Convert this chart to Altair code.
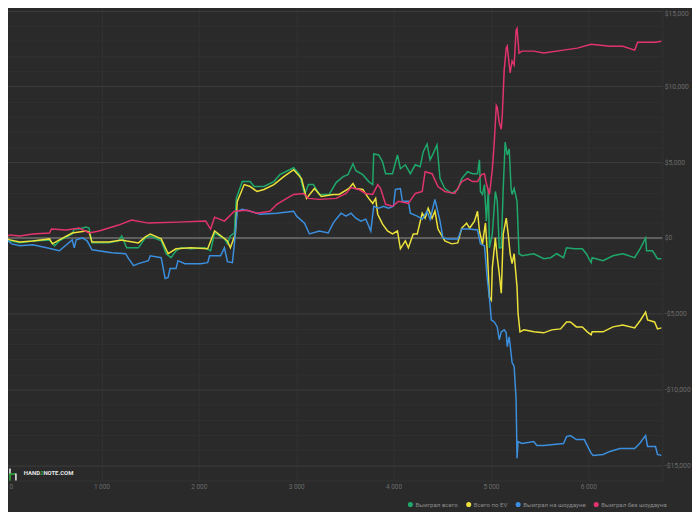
import altair as alt
import pandas as pd

series_names = ["Выиграл всего", "Всего по EV", "Выиграл на шоудауне", "Выиграл без шоудауна"]
series_colors = ["#1fa86b", "#ece23a", "#3b8fde", "#e2336d"]

green_hands = [0, 61, 162, 294, 467, 518, 568, 700, 721, 771,
               842, 873, 903, 1076, 1177, 1208, 1259, 1380, 1451, 1502,
               1614, 1665, 1715, 1766, 1817, 1918, 2060, 2121, 2162, 2263,
               2294, 2324, 2365, 2385, 2446, 2527, 2568, 2669, 2771, 2832,
               2974, 3035, 3086, 3126, 3177, 3238, 3339, 3410, 3482, 3532,
               3583, 3613, 3684, 3745, 3786, 3796, 3847, 3887, 3918, 3989,
               4040, 4070, 4121, 4172, 4223, 4273, 4304, 4344, 4375, 4405,
               4446, 4477, 4527, 4598, 4659, 4700, 4760, 4811, 4862, 4882,
               4892, 4913, 4933, 4953, 4974, 4984, 5014, 5045, 5065, 5085,
               5106, 5126, 5146, 5167, 5187, 5207, 5217, 5238, 5268, 5288,
               5319, 5440, 5542, 5613, 5674, 5745, 5776, 5857, 5938, 5979,
               6029, 6039, 6151, 6253, 6354, 6476, 6537, 6588, 6598, 6659,
               6710, 6750]
green_values = [0, -196, -326, -196, -130, -522, -196, 261, 587, 587,
                717, 652, -326, -326, -196, 130, -652, -652, 0, 130,
                -196, -1043, -1304, -848, -652, -717, -652, -848, 326, -65,
                -391, 130, 326, 2609, 3718, 3718, 3391, 3391, 3718, 4174,
                4630, 4174, 2870, 3522, 3522, 2870, 2870, 3652, 4044, 4174,
                4891, 4435, 4174, 3718, 3522, 5544, 5478, 5022, 4239, 4239,
                5478, 4565, 4826, 4239, 4826, 4696, 5674, 6196, 5152, 5544,
                6131, 3913, 3261, 2935, 3196, 3913, 4370, 4239, 4239, 5152,
                3065, 2870, 3522, 1109, 3261, -652, 261, 3065, 2413, -652,
                -652, 3261, 6326, 5478, 5870, 3261, 2870, 3261, 2413, -1043,
                -1174, -1043, -1370, -1304, -1043, -1304, -652, -717, -717, -1043,
                -1630, -1304, -1500, -1174, -1043, -1304, -652, 0, -848, -848,
                -1370, -1370]

yellow_hands = [0, 61, 162, 294, 467, 497, 568, 700, 842, 873,
                903, 1076, 1208, 1259, 1380, 1451, 1502, 1614, 1685, 1766,
                1918, 2091, 2162, 2294, 2324, 2375, 2395, 2466, 2527, 2598,
                2669, 2771, 2872, 2974, 3055, 3106, 3187, 3258, 3380, 3441,
                3542, 3583, 3613, 3684, 3745, 3786, 3816, 3837, 3887, 3938,
                3989, 4040, 4070, 4121, 4152, 4202, 4243, 4294, 4324, 4355,
                4395, 4425, 4456, 4527, 4598, 4659, 4700, 4750, 4781, 4831,
                4862, 4882, 4913, 4943, 4964, 4984, 5004, 5014, 5045, 5065,
                5085, 5106, 5126, 5157, 5177, 5197, 5217, 5238, 5268, 5278,
                5298, 5339, 5440, 5542, 5624, 5715, 5776, 5816, 5877, 5938,
                5989, 6029, 6039, 6151, 6253, 6354, 6476, 6537, 6588, 6608,
                6680, 6710, 6750]
yellow_values = [0, -130, -261, -196, -65, -391, -130, 326, 457, 391,
                 -261, -261, -130, -196, -326, 65, 261, -65, -1043, -717,
                 -652, -717, 457, -196, -652, 261, 2413, 3522, 3391, 3065,
                 3196, 3522, 4044, 4500, 3913, 2609, 3261, 2739, 2870, 2870,
                 3261, 3587, 3261, 3196, 2609, 2283, 2609, 1565, 913, 457,
                 261, 457, -717, -196, -652, 261, 261, 1630, 1304, 1957,
                 1304, 1761, 587, -196, -391, -326, 652, 978, 652, 1109,
                 1761, 457, -391, 978, -1043, -3913, -4109, -1957, 0, -1304,
                 -2348, -3652, 261, 1304, 261, -1043, -1696, -1043, -3261, -4957,
                 -6196, -6065, -6196, -6261, -6065, -6000, -5544, -5544, -5870, -5870,
                 -6196, -6392, -6196, -6196, -5870, -5739, -5935, -5413, -4891, -5413,
                 -5544, -6000, -5935]

blue_hands = [0, 81, 162, 294, 437, 568, 700, 721, 741, 802,
              853, 903, 1106, 1248, 1279, 1330, 1380, 1482, 1502, 1614,
              1654, 1685, 1705, 1766, 1786, 1857, 2020, 2091, 2111, 2223,
              2263, 2294, 2345, 2365, 2395, 2446, 2527, 2629, 2801, 2974,
              3004, 3086, 3136, 3238, 3329, 3380, 3410, 3461, 3512, 3563,
              3613, 3664, 3715, 3766, 3796, 3847, 3898, 3948, 3999, 4019,
              4070, 4091, 4152, 4172, 4243, 4294, 4344, 4375, 4425, 4446,
              4477, 4507, 4558, 4659, 4700, 4781, 4862, 4892, 4933, 4964,
              4984, 5004, 5034, 5065, 5085, 5106, 5136, 5157, 5167, 5187,
              5217, 5238, 5258, 5268, 5278, 5319, 5440, 5471, 5542, 5745,
              5776, 5816, 5877, 5958, 6029, 6050, 6151, 6222, 6324, 6476,
              6527, 6588, 6608, 6690, 6710, 6750]
blue_values = [0, -391, -522, -457, -652, -848, -130, -652, -130, 0,
               -196, -783, -978, -1043, -1370, -1826, -1696, -1500, -1174, -1304,
               -2674, -2609, -2022, -2022, -1500, -1696, -1696, -1630, -1174, -1174,
               -652, -1565, -1630, -391, 1761, 1891, 1761, 1565, 1630, 1761,
               1435, 978, 261, 457, 326, 978, 1239, 1630, 1435, 1630,
               1304, 1109, 1239, 457, 2087, 1957, 2087, 1957, 2087, 3196,
               3261, 2413, 2413, 1630, 1435, 1239, 1761, 1239, 2544, 1957,
               1109, 0, -65, -65, 587, 587, 522, -391, -522, -2805,
               -3913, -5413, -5544, -5870, -6718, -6196, -6065, -6261, -7174, -6522,
               -8218, -8479, -10631, -14544, -13435, -13566, -13435, -13696, -13696, -13566,
               -13109, -13044, -13305, -13305, -14218, -14348, -14283, -14087, -13892, -13892,
               -13566, -13044, -13761, -13761, -14283, -14348]

red_hands = [0, 61, 162, 294, 467, 487, 640, 771, 873, 974,
             1177, 1309, 1482, 1786, 2071, 2121, 2162, 2263, 2365, 2497,
             2598, 2730, 2801, 2903, 2974, 3075, 3126, 3238, 3410, 3512,
             3563, 3644, 3715, 3786, 3837, 3867, 3918, 3989, 4050, 4152,
             4223, 4294, 4324, 4395, 4456, 4527, 4629, 4700, 4760, 4811,
             4862, 4903, 4933, 4953, 4984, 5014, 5034, 5055, 5065, 5085,
             5106, 5116, 5136, 5157, 5167, 5197, 5217, 5238, 5258, 5268,
             5288, 5319, 5440, 5542, 5745, 5887, 6029, 6222, 6354, 6476,
             6506, 6690, 6750]
red_values = [0, 196, 130, 261, 326, 587, 522, 652, 326, 457,
              848, 1174, 978, 1043, 1109, 587, 1370, 1109, 1761, 1826,
              1630, 1761, 2217, 2609, 2870, 2935, 2609, 2544, 2609, 2935,
              3326, 3196, 2935, 2870, 3522, 3261, 2217, 2087, 2413, 2283,
              2935, 3065, 4370, 4239, 3391, 3065, 2935, 3718, 3913, 3718,
              3718, 4174, 4239, 3587, 2870, 4500, 6326, 8739, 8609, 7630,
              7174, 8087, 11087, 12522, 12652, 10891, 11674, 11413, 13696, 13826,
              12196, 12326, 12326, 12196, 12392, 12522, 12783, 12652, 12652, 12392,
              12913, 12913, 12978]

x_ticks = [0, 1000, 2000, 3000, 4000, 5000, 6000]
y_grid = list(range(-16000, 15001, 1000))

all_hands = [green_hands, yellow_hands, blue_hands, red_hands]
all_values = [green_values, yellow_values, blue_values, red_values]
frames = []
for i, (name, hs, vs) in enumerate(zip(series_names, all_hands, all_values)):
    n = min(len(hs), len(vs))
    frames.append(pd.DataFrame({"series": name, "hands": hs[:n], "value": vs[:n], "k": i}))
df = pd.concat(frames, ignore_index=True)

FONT = "Roboto"
LABEL = "#6a6a6a"
xs = alt.Scale(domain=[0, 6760], nice=False, zero=False)
ys = alt.Scale(domain=[-16000, 15500], nice=False, zero=False)

x_axis = alt.Axis(
    values=x_ticks, title=None, grid=True, gridColor="#333333", gridWidth=1,
    domain=False, ticks=False, labelColor=LABEL, labelFontSize=6.5, labelFont=FONT,
    labelPadding=3, labelOverlap=False, labelFlush=5, labelFlushOffset=-5,
    labelExpr="replace(format(datum.value, ','), ',', ' ')")
y_axis = alt.Axis(
    orient="right", values=y_grid, title=None, grid=True,
    gridColor={"condition": {"test": "datum.value % 5000 === 0", "value": "#3e3e3e"},
               "value": "#313131"},
    domain=False, ticks=False, labelColor=LABEL, labelFontSize=6.8, labelFont=FONT,
    labelPadding=2, labelOverlap=False, labelBound=False, labelFlush=12,
    labelExpr="datum.value % 5000 === 0 ? (datum.value < 0 ? '-$' : '$') + format(abs(datum.value), ',') : ''")

zero_rule = alt.Chart(pd.DataFrame({"value": [0]})).mark_rule(
    color="#5e5e5e", strokeWidth=2
).encode(y=alt.Y("value:Q", scale=ys, axis=y_axis))

lines = alt.Chart(df).mark_line(strokeWidth=1.5, interpolate="linear").encode(
    x=alt.X("hands:Q", scale=xs, axis=x_axis),
    y=alt.Y("value:Q", scale=ys, axis=y_axis),
    color=alt.Color("series:N", scale=alt.Scale(domain=series_names, range=series_colors),
                    legend=alt.Legend(orient="none", legendX=408, legendY=504, direction="horizontal",
                                      title=None, symbolType="circle", symbolSize=7,
                                      symbolStrokeWidth=2.5, labelFontSize=6.2, labelFont=FONT,
                                      labelColor="#8a8a8a", columnPadding=3, labelOffset=2)),
    detail="k:N",
)

one = pd.DataFrame({"a": [1]})
logo_hand = alt.Chart(one).mark_text(text="HAND", align="left", baseline="middle", font=FONT,
                                     fontWeight="bold", fontSize=6, color="#e6e6e6").encode(
    x=alt.value(20), y=alt.value(476))
logo_two = alt.Chart(one).mark_text(text="2", align="left", baseline="middle", font=FONT,
                                    fontWeight="bold", fontSize=6, color="#2eaa3a").encode(
    x=alt.value(36.6), y=alt.value(476))
logo_note = alt.Chart(one).mark_text(text="NOTE.COM", align="left", baseline="middle", font=FONT,
                                     fontWeight="bold", fontSize=6, color="#e6e6e6").encode(
    x=alt.value(39.8), y=alt.value(476))
icon_a = alt.Chart(one).mark_rule(color="#e6e6e6", strokeWidth=1.6).encode(
    x=alt.value(6), y=alt.value(471), y2=alt.value(477))
icon_b = alt.Chart(one).mark_rule(color="#2eaa3a", strokeWidth=1.6).encode(
    x=alt.value(6), x2=alt.value(12), y=alt.value(476.5))
icon_c = alt.Chart(one).mark_rule(color="#2eaa3a", strokeWidth=1.6).encode(
    x=alt.value(6), y=alt.value(476), y2=alt.value(483))
icon_d = alt.Chart(one).mark_rule(color="#e6e6e6", strokeWidth=1.6).encode(
    x=alt.value(12), y=alt.value(476), y2=alt.value(483))

chart = alt.layer(zero_rule, lines, logo_hand, logo_two, logo_note, icon_a, icon_b, icon_c, icon_d).properties(
    width=666, height=483,
    padding={"left": -4, "top": -8, "right": 30, "bottom": 30},
    autosize=alt.AutoSizeParams(type="none"),
    background="#2a2a2a",
).configure_view(stroke="#333333")

chart.save("out.html", embed_options={"renderer": "svg", "actions": False})
